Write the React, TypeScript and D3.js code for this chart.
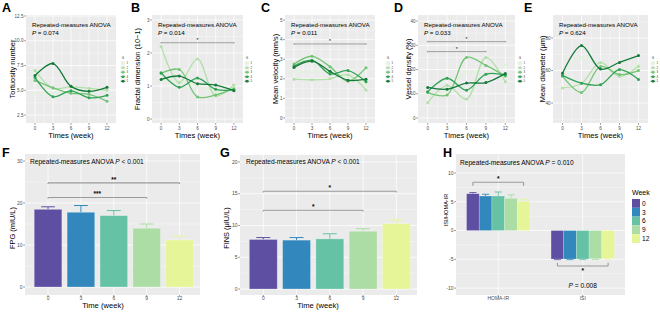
import * as d3 from "d3";

// ---- data ----
const weeks = [0, 3, 6, 9, 12];
const subjects = ["1", "2", "3", "4", "5"];

const tortuosity = [
  [4.7, 4.75, 4.9, 5.0, 5.05],
  [7.0, 5.2, 5.35, 5.2, 5.0],
  [6.0, 5.25, 4.7, 4.6, 3.9],
  [6.3, 4.35, 4.95, 4.25, 4.5],
  [6.5, 7.7, 5.4, 4.9, 5.3],
];
const fractal = [
  [1.2, 1.15, 1.0, 0.8, 0.95],
  [2.2, 1.1, 1.82, 0.7, 1.03],
  [1.38, 1.5, 0.67, 0.73, 0.92],
  [1.4, 0.96, 1.24, 0.9, 0.88],
  [1.2, 1.3, 1.07, 1.03, 0.86],
];
const velocity = [
  [2.35, 2.35, 2.35, 2.1, 1.7],
  [1.98, 1.95, 2.0, 2.2, 1.43],
  [2.75, 3.15, 2.62, 1.87, 2.57],
  [2.65, 2.95, 2.25, 2.42, 1.85],
  [2.58, 2.9, 2.38, 1.93, 1.98],
];
const density = [
  [9, 11, 19, 18, 22],
  [6.3, 13.5, 7.8, 25, 15],
  [10.5, 9.5, 25, 21.7, 17.3],
  [10.8, 16.4, 11.5, 18.1, 17.7],
  [12.6, 11.9, 14.4, 14.6, 18.4],
];
const diameter = [
  [58, 68, 63, 60, 64],
  [49.3, 52, 65, 56.4, 62.6],
  [56.5, 46.5, 62.5, 57.5, 60],
  [57, 52.2, 51.3, 60.6, 54.5],
  [58.3, 75.4, 60.9, 65, 69.2],
];

const weekLabels = ["0", "3", "6", "9", "12"];
const fpgMean = [18.5, 17.8, 17.0, 14.0, 11.2];
const fpgErr = [0.6, 1.6, 1.2, 1.0, 0.9];
const finsMean = [7.8, 7.7, 7.9, 9.1, 10.3];
const finsErr = [0.3, 0.4, 0.8, 0.4, 0.6];
const indexNames = ["HOMA-IR", "ISI"];
const homaMean = [6.4, 6.0, 6.0, 5.6, 5.1];
const homaErr = [0.2, 0.3, 0.7, 0.6, 0.3];
const isiMean = [-4.95, -4.95, -4.95, -4.9, -4.85];
const isiErr = [0.1, 0.1, 0.1, 0.1, 0.1];

const FONT = "'Liberation Sans', Arial, Helvetica, sans-serif";
const greens = ["#e2f3dc", "#b3dfaa", "#74c476", "#31a354", "#137a3a"];
const spectral = d3.schemeSpectral[10].slice(5).reverse();
const BG = "#EBEBEB";
const TICK = "#4D4D4D";

type R = { x0: number; x1: number; y0: number; y1: number };

function Frame({ r, x, y, xTicks, xLabels, xMinor, yTicks, yLabels, yMinor, fs, lab }: any) {
  return (
    <g>
      <rect x={r.x0} y={r.y0} width={r.x1 - r.x0} height={r.y1 - r.y0} fill={BG} />
      {yMinor.map((v: number) => (
        <line key={"ym" + v} x1={r.x0} x2={r.x1} y1={y(v)} y2={y(v)} stroke="#fff" strokeWidth={0.35} />
      ))}
      {xMinor.map((v: number) => (
        <line key={"xm" + v} x1={x(v)} x2={x(v)} y1={r.y0} y2={r.y1} stroke="#fff" strokeWidth={0.35} />
      ))}
      {yTicks.map((v: number) => (
        <line key={"yg" + v} x1={r.x0} x2={r.x1} y1={y(v)} y2={y(v)} stroke="#fff" strokeWidth={0.75} />
      ))}
      {xTicks.map((v: number) => (
        <line key={"xg" + v} x1={x(v)} x2={x(v)} y1={r.y0} y2={r.y1} stroke="#fff" strokeWidth={0.75} />
      ))}
      {yTicks.map((v: number, i: number) => (
        <g key={"yt" + v}>
          <line x1={r.x0 - 1.8} x2={r.x0} y1={y(v)} y2={y(v)} stroke="#333" strokeWidth={0.5} />
          <text x={r.x0 - 2.5} y={y(v)} dy="0.35em" textAnchor="end" fontSize={fs} fill={TICK}>
            {yLabels[i]}
          </text>
        </g>
      ))}
      {xTicks.map((v: number, i: number) => (
        <g key={"xt" + v}>
          <line x1={x(v)} x2={x(v)} y1={r.y1} y2={r.y1 + 1.8} stroke="#333" strokeWidth={0.5} />
          <text x={x(v)} y={r.y1 + lab} textAnchor="middle" fontSize={fs} fill={TICK}>
            {xLabels[i]}
          </text>
        </g>
      ))}
    </g>
  );
}

function YTitle({ x, y, text, fs }: any) {
  return (
    <text transform={`translate(${x},${y}) rotate(-90)`} textAnchor="middle" dy="0.35em" fontSize={fs} fill="#000">
      {text}
    </text>
  );
}

const topPanels = [
  { letter: "A", lx: 2, r: { x0: 26, x1: 116, y0: 15, y1: 123 }, yDom: [1.7, 12.6], yTicks: [2.5, 5, 7.5, 10, 12.5], yMinor: [3.75, 6.25, 8.75, 11.25], fmt: d3.format(".1f"), title: "Tortuosity number", tx: 12, series: tortuosity, p: "P = 0.074", sig: [] as number[][], legX: 123 },
  { letter: "B", lx: 131, r: { x0: 152, x1: 243, y0: 15, y1: 123 }, yDom: [-0.12, 3.15], yTicks: [0, 1, 2, 3], yMinor: [0.5, 1.5, 2.5], fmt: d3.format("d"), title: "Fractal dimension (10\u22121)", tx: 137, series: fractal, p: "P  =  0.014", sig: [[0, 12, 2.31]], legX: 247 },
  { letter: "C", lx: 261, r: { x0: 285, x1: 375, y0: 15, y1: 123 }, yDom: [-0.26, 5.26], yTicks: [0, 1, 2, 3, 4, 5], yMinor: [0.5, 1.5, 2.5, 3.5, 4.5], fmt: d3.format("d"), title: "Mean velocity (mm/s)", tx: 275, series: velocity, p: "P  =  0.011", sig: [[0, 12, 3.78]], legX: 388 },
  { letter: "D", lx: 394, r: { x0: 418, x1: 515, y0: 15, y1: 123 }, yDom: [-2.06, 42.5], yTicks: [0, 10, 20, 30, 40], yMinor: [5, 15, 25, 35], fmt: d3.format("d"), title: "Vessel density (%)", tx: 408, series: density, p: "P  =  0.033", sig: [[0, 12, 31.5], [0, 9, 27.4]], legX: 520 },
  { letter: "E", lx: 524, r: { x0: 553, x1: 648, y0: 15, y1: 123 }, yDom: [27.7, 94.2], yTicks: [40, 60, 80], yMinor: [30, 50, 70, 90], fmt: d3.format("d"), title: "Mean diameter (\u03bcm)", tx: 542, series: diameter, p: "P  =  0.624", sig: [] as number[][], legX: 653 },
];

function LinePanel({ p }: any) {
  const r: R = p.r;
  const x = d3.scaleLinear().domain([-1.5, 13.5]).range([r.x0, r.x1]);
  const y = d3.scaleLinear().domain(p.yDom).range([r.y1, r.y0]);
  const line = d3
    .line<number>()
    .x((_, i) => x(weeks[i]))
    .y((v) => y(v))
    .curve(d3.curveCatmullRom.alpha(0.5));
  const cx = (r.x0 + r.x1) / 2;
  return (
    <g>
      <text x={p.lx} y={12} fontSize={12.5} fontWeight="bold">{p.letter}</text>
      <Frame r={r} x={x} y={y} xTicks={weeks} xLabels={weeks.map(String)} xMinor={[1.5, 4.5, 7.5, 10.5]}
        yTicks={p.yTicks} yLabels={p.yTicks.map(p.fmt)} yMinor={p.yMinor} fs={4.6} lab={6.5} />
      {p.sig.map((s: number[], i: number) => (
        <g key={"s" + i} stroke="#7f7f7f" strokeWidth={0.7}>
          <line x1={x(s[0])} x2={x(s[1])} y1={y(s[2])} y2={y(s[2])} />
          <line x1={x(s[0])} x2={x(s[0])} y1={y(s[2]) - 0.8} y2={y(s[2]) + 0.8} />
          <line x1={x(s[1])} x2={x(s[1])} y1={y(s[2]) - 0.8} y2={y(s[2]) + 0.8} />
          <text x={(x(s[0]) + x(s[1])) / 2} y={y(s[2]) - 0.6} textAnchor="middle" fontSize={5} stroke="none" fill="#000">*</text>
        </g>
      ))}
      {p.series.map((s: number[], k: number) => (
        <g key={"l" + k}>
          <path d={line(s) || ""} fill="none" stroke={greens[k]} strokeWidth={1.3} />
          {s.map((v, i) => (
            <circle key={i} cx={x(weeks[i])} cy={y(v)} r={1.5} fill={greens[k]} />
          ))}
        </g>
      ))}
      <text x={r.x0 + 6} y={27} fontSize={6.2}>Repeated-measures ANOVA</text>
      <text x={r.x0 + 6} y={35} fontSize={6.2}>
        <tspan fontStyle="italic">{p.p.slice(0, 1)}</tspan>
        {p.p.slice(1)}
      </text>
      <text x={cx} y={138} textAnchor="middle" fontSize={7.6}>Times (week)</text>
      <YTitle x={p.tx} y={69} text={p.title} fs={7.4} />
      <g>
        <text x={p.legX} y={59} textAnchor="middle" fontSize={3} fill="#333">G</text>
        {subjects.map((s, k) => (
          <g key={s}>
            <rect x={p.legX - 2.4} y={61 + k * 4.5} width={4.6} height={4.3} fill="#F2F2F2" />
            <line x1={p.legX - 2.2} x2={p.legX + 2.2} y1={63.2 + k * 4.5} y2={63.2 + k * 4.5} stroke={greens[k]} strokeWidth={1.1} />
            <circle cx={p.legX} cy={63.2 + k * 4.5} r={1.3} fill={greens[k]} />
            <text x={p.legX + 3.5} y={63.2 + k * 4.5} dy="0.35em" fontSize={2.8} fill="#333">{s}</text>
          </g>
        ))}
      </g>
    </g>
  );
}

function Sig({ x1, x2, yv, label, tick, fs, below }: any) {
  return (
    <g>
      <g stroke="#9a9a9a" strokeWidth={1.1}>
        <line x1={x1} x2={x2} y1={yv} y2={yv} />
        <line x1={x1} x2={x1} y1={yv} y2={yv + tick} />
        <line x1={x2} x2={x2} y1={yv} y2={yv + tick} />
      </g>
      <text x={(x1 + x2) / 2} y={below ? yv + fs * 1.05 : yv - 1.2} textAnchor="middle" fontSize={fs} fontWeight="bold">
        {label}
      </text>
    </g>
  );
}

function BarPanel({ letter, lx, r, yDom, yTicks, yMinor, means, errs, yTitle, yTitleX, titleX, sigs, textX }: any) {
  const x = d3.scaleLinear().domain([-0.7, 4.62]).range([r.x0, r.x1]);
  const y = d3.scaleLinear().domain(yDom).range([r.y1, r.y0]);
  const idx = d3.range(weeks.length);
  const bw = 0.84;
  const u = x(1) - x(0);
  return (
    <g>
      <text x={lx} y={157} fontSize={12.5} fontWeight="bold">{letter}</text>
      <Frame r={r} x={x} y={y} xTicks={idx} xLabels={weekLabels} xMinor={[]} yTicks={yTicks}
        yLabels={yTicks.map(String)} yMinor={yMinor} fs={5} lab={5.2} />
      {idx.map((i) => (
        <g key={i}>
          <line x1={x(i)} x2={x(i)} y1={y(means[i])} y2={y(means[i] + errs[i])} stroke={spectral[i]} strokeWidth={1} />
          <line x1={x(i) - u * bw * 0.25} x2={x(i) + u * bw * 0.25} y1={y(means[i] + errs[i])} y2={y(means[i] + errs[i])} stroke={spectral[i]} strokeWidth={1} />
          <rect x={x(i) - (u * bw) / 2} width={u * bw} y={y(means[i])} height={y(0) - y(means[i])} fill={spectral[i]}
            stroke="#fff" strokeOpacity={0.35} strokeWidth={0.8} />
        </g>
      ))}
      {sigs.map((s: any, k: number) => (
        <Sig key={k} x1={x(s[0])} x2={x(s[1])} yv={y(s[3])} label={s[2]} tick={1.2} fs={6.5} />
      ))}
      <text x={textX} y={164} fontSize={6.6}>
        Repeated-measures ANOVA <tspan fontStyle="italic">P</tspan> {"< 0.001"}
      </text>
      <text x={titleX} y={308} textAnchor="middle" fontSize={7.6}>Time (week)</text>
      <YTitle x={yTitleX} y={228} text={yTitle} fs={7.4} />
    </g>
  );
}

function HPanel() {
  const r: R = { x0: 456, x1: 625, y0: 154, y1: 295 };
  const x = d3.scaleLinear().domain([-0.5, 1.5]).range([r.x0, r.x1]);
  const y = d3.scaleLinear().domain([-11.2, 13.3]).range([r.y1, r.y0]);
  const u = x(1) - x(0);
  const bw = (u * 0.75) / 5;
  const groups = [
    { m: homaMean, e: homaErr },
    { m: isiMean, e: isiErr },
  ];
  const bx = (g: number, k: number) => x(g) + (k - 2) * bw;
  return (
    <g>
      <text x={443} y={157} fontSize={12.5} fontWeight="bold">H</text>
      <Frame r={r} x={x} y={y} xTicks={[0, 1]} xLabels={indexNames} xMinor={[]} yTicks={[-10, -5, 0, 5, 10]}
        yLabels={["-10", "-5", "0", "5", "10"]} yMinor={[-7.5, -2.5, 2.5, 7.5]} fs={5} lab={5.2} />
      {groups.map((g, gi) =>
        g.m.map((v, k) => {
          const ev = v >= 0 ? v + g.e[k] : v - g.e[k];
          return (
            <g key={gi + "-" + k}>
              <line x1={bx(gi, k)} x2={bx(gi, k)} y1={y(v)} y2={y(ev)} stroke={spectral[k]} strokeWidth={0.9} />
              <line x1={bx(gi, k) - bw * 0.28} x2={bx(gi, k) + bw * 0.28} y1={y(ev)} y2={y(ev)} stroke={spectral[k]} strokeWidth={0.9} />
              <rect x={bx(gi, k) - bw / 2} width={bw} y={Math.min(y(v), y(0))} height={Math.abs(y(0) - y(v))}
                fill={spectral[k]} stroke="#fff" strokeOpacity={0.35} strokeWidth={0.6} />
            </g>
          );
        })
      )}
      <Sig x1={bx(0, 0)} x2={bx(0, 4)} yv={y(8.38)} label="*" tick={3.4} fs={6.5} />
      <Sig x1={bx(1, 0)} x2={bx(1, 4)} yv={y(-6.17)} label="*" tick={-3.4} fs={6.5} below />
      <text x={x(1)} y={288} textAnchor="middle" fontSize={6.6}>
        <tspan fontStyle="italic">P</tspan> = 0.008
      </text>
      <text x={460} y={165} fontSize={6.6}>
        Repeated-measures ANOVA <tspan fontStyle="italic">P</tspan> = 0.010
      </text>
      <YTitle x={446} y={210} text="ISI/HOMA-IR" fs={5.6} />
      <text x={632} y={195} fontSize={7}>Week</text>
      {weekLabels.map((w, k) => (
        <g key={w}>
          <rect x={632} y={199 + k * 8.8} width={8} height={8.8} fill={spectral[k]} />
          <text x={642} y={199 + k * 8.8 + 4.4} dy="0.35em" fontSize={6.6}>{w}</text>
        </g>
      ))}
    </g>
  );
}

export default function App() {
  return (
    <div style={{ position: "absolute", left: 0, top: 0 }}>
      <svg width={660} height={312} fontFamily={FONT} style={{ display: "block" }}>
        <rect width={660} height={312} fill="#fff" />
        {topPanels.map((p) => (
          <LinePanel key={p.letter} p={p} />
        ))}
        <BarPanel letter="F" lx={2} r={{ x0: 25, x1: 200, y0: 154, y1: 295 }} yDom={[-1.9, 31.67]}
          yTicks={[0, 10, 20, 30]} yMinor={[5, 15, 25]} means={fpgMean} errs={fpgErr}
          yTitle="FPG (mIU/L)" yTitleX={12} titleX={103} textX={30}
          sigs={[[0, 4, "**", 24.8], [0, 3, "***", 21.3]]} />
        <BarPanel letter="G" lx={220} r={{ x0: 240, x1: 417, y0: 155, y1: 295 }} yDom={[-0.94, 21.1]}
          yTicks={[0, 5, 10, 15, 20]} yMinor={[2.5, 7.5, 12.5, 17.5]} means={finsMean} errs={finsErr}
          yTitle={"FINS (\u03bcIU/L)"} yTitleX={226} titleX={318} textX={246}
          sigs={[[0, 4, "*", 15.4], [0, 3, "*", 12.4]]} />
        <HPanel />
      </svg>
    </div>
  );
}
